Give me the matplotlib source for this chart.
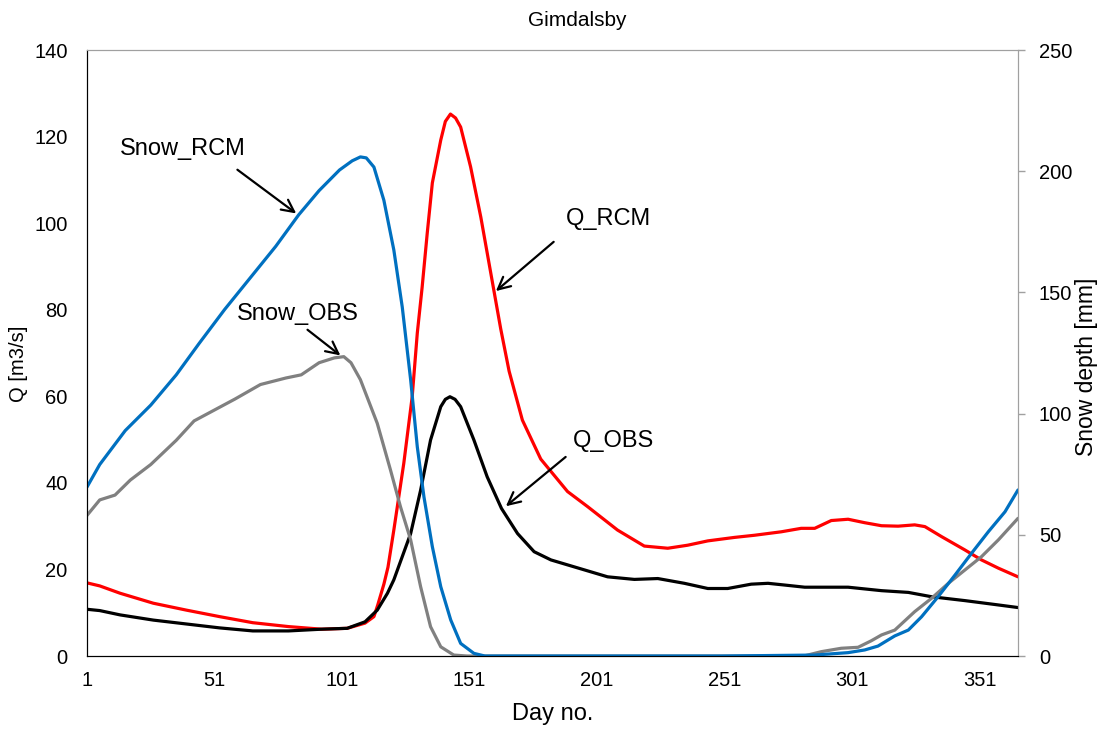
import matplotlib
matplotlib.use("Agg")
import matplotlib.pyplot as plt

plt.rcParams["font.family"] = ["Liberation Sans", "DejaVu Sans"]

# runoff (left axis, m3/s)
q_rcm_day = [1, 6, 14, 27, 40, 53, 66, 80, 93, 103, 110, 113.5, 115, 117.4, 119, 121.3, 125.2,
             128.5, 130.5, 132.4, 134.4, 136.4, 139.7, 141.5, 143.5, 145.5, 147.5, 151.4, 155.4,
             159.3, 163.2, 166.5, 171.7, 178.9, 189.4, 197.3, 209, 219.5, 228.7, 236.5, 244.4,
             254.8, 262.7, 273.2, 281, 286.3, 292.8, 299.4, 305.9, 312.5, 319, 325.5, 329.5, 336,
             345.2, 351.7, 358.3, 366]
q_rcm = [16.9, 16.2, 14.5, 12.2, 10.6, 9.1, 7.7, 6.8, 6.2, 6.4, 7.6, 9.1, 11.8, 16.6, 20.5, 29.1, 44.5,
         59.9, 74.6, 85.2, 97.7, 109.3, 119.2, 123.5, 125.2, 124.3, 122.2, 113.0, 101.4,
         88.5, 75.6, 65.8, 54.5, 45.5, 38.0, 34.5, 29.1, 25.4, 24.9, 25.6, 26.6,
         27.4, 27.9, 28.7, 29.5, 29.5, 31.3, 31.6, 30.8, 30.1, 30.0, 30.3, 29.9, 27.6,
         24.5, 22.2, 20.3, 18.3]

q_obs_day = [1, 6, 14, 27, 40, 53, 66, 80, 93, 103, 110, 114.8, 118.8, 121.3, 127.9, 131.8, 135.7,
             139.7, 141.5, 143.3, 145.3, 147.5, 152.7, 157.9, 163.5, 169.8, 176.3, 182.9, 196,
             205.1, 215.6, 224.8, 235.2, 244.4, 252.2, 261.4, 268, 274.5, 282.4, 299.4, 312.5,
             323, 332.1, 345.2, 358.3, 366]
q_obs = [10.8, 10.5, 9.5, 8.3, 7.4, 6.5, 5.8, 5.8, 6.2, 6.4, 7.9, 10.6, 14.5, 17.6, 28.3, 38.3, 49.9,
         57.6, 59.3, 59.9, 59.3, 57.6, 49.9, 41.4, 34.1, 28.3, 24.1, 22.2, 19.9,
         18.3, 17.7, 17.9, 16.8, 15.6, 15.6, 16.6, 16.8, 16.4, 15.9, 15.9, 15.1,
         14.7, 13.7, 12.8, 11.8, 11.2]

# snow depth (right axis, mm)
snow_rcm_day = [1, 6, 16, 26, 36, 45, 55, 65, 75, 84, 92, 100, 105, 108.2, 110.5, 113.5, 117.4,
                121.3, 124.6, 127.9, 130.5, 133.1, 136.4, 139.7, 143.6, 147.5, 152.7, 157, 200,
                250, 286.3, 299.4, 305.9, 311.1, 317.7, 323, 328.2, 334.7, 341.3, 347.8, 354.4,
                360.9, 366]
snow_rcm = [69.7, 79, 93, 103.5, 116, 129, 143, 156, 169, 182, 192, 200.5, 204.3, 205.9, 205.5, 201.7, 188,
            167.5, 144, 113.9, 86.3, 65.7, 45.1, 28.6, 14.9, 5.2, 1.1, 0, 0,
            0, 0.4, 1.4, 2.5, 4.1, 8.3, 10.7, 16.2, 24.5, 33.4, 42.4, 51.3,
            59.5, 68.5]

snow_obs_day = [1, 6, 12, 18, 26, 36, 43, 51, 59, 69, 79, 85, 92, 98, 101.7, 104.5, 108.2, 114.8,
                120, 123.9, 127.9, 131.8, 135.7, 139.7, 144.8, 150, 200, 250, 282, 288.9, 296.7,
                303.3, 308.5, 312.5, 317.7, 325.5, 332.1, 338.7, 345.2, 351.7, 358.3, 366]
snow_obs = [58, 64.4, 66.4, 72.6, 79, 89, 97, 101.5, 106, 112, 114.7, 116, 121, 123, 123.5, 121, 114, 96,
            76.7, 61.6, 47.9, 28.6, 12.1, 3.8, 0.4, 0, 0, 0, 0, 1.8, 3.2,
            3.6, 6.3, 8.7, 10.7, 18.3, 23.8, 30, 35.5, 41, 47.9, 56.8]

xticks = [1, 51, 101, 151, 201, 251, 301, 351]

fig = plt.figure(figsize=(11.01, 7.29), dpi=100)
ax = fig.add_axes([0.079, 0.1001, 0.8456, 0.8313])
ax2 = ax.twinx()

line = dict(lw=2.3, solid_joinstyle="round", solid_capstyle="round")
ax.plot(q_rcm_day, q_rcm, color="#FF0000", **line)
ax.plot(q_obs_day, q_obs, color="black", **line)
ax2.plot(snow_obs_day, snow_obs, color="#808080", **line)
ax2.plot(snow_rcm_day, snow_rcm, color="#0070C0", **line)

ax.set_xlim(1, 366)
ax.set_ylim(0, 140)
ax2.set_ylim(0, 250)
ax.set_xticks(xticks)
ax.set_yticks(range(0, 141, 20))
ax2.set_yticks(range(0, 251, 50))

for a in (ax, ax2):
    a.spines["top"].set_color("#A0A0A0")
    a.spines["right"].set_color("#A0A0A0")
    a.spines["left"].set_color("black")
    a.spines["bottom"].set_color("black")
ax.tick_params(axis="y", length=0, pad=14, labelsize=14.5)
ax.tick_params(axis="x", length=0, pad=11, labelsize=14.5)
ax2.tick_params(axis="y", length=5, width=1, color="#A0A0A0", pad=10, labelsize=14.5)

ax.set_xlabel("Day no.", fontsize=17, labelpad=9)
ax.set_ylabel("Q [m3/s]", fontsize=14.5)
ax.yaxis.set_label_coords(-0.063, 0.483)
ax2.set_ylabel("Snow depth [mm]", fontsize=16.5)
ax2.yaxis.set_label_coords(1.061, 0.477)
fig.text(0.524, 0.972, "Gimdalsby", fontsize=15, ha="center", va="center")

arrow = dict(arrowstyle="->", color="black", lw=1.6, mutation_scale=22)
ax2.text(14, 209, "Snow_RCM", fontsize=17, va="center")
ax2.annotate("", xy=(83.9, 181.9), xytext=(59.1, 201.3), arrowprops=arrow)
ax2.text(59.9, 141, "Snow_OBS", fontsize=17, va="center")
ax2.annotate("", xy=(101.2, 123.3), xytext=(86.6, 135.3), arrowprops=arrow)
ax2.text(188.7, 101 * 250 / 140, "Q_RCM", fontsize=17, va="center")
ax2.annotate("", xy=(160.5, 83.9 * 250 / 140), xytext=(184.8, 96.1 * 250 / 140), arrowprops=arrow)
ax2.text(191.5, 49.7 * 250 / 140, "Q_OBS", fontsize=17, va="center")
ax2.annotate("", xy=(164.4, 34.2 * 250 / 140), xytext=(189.5, 46.4 * 250 / 140), arrowprops=arrow)

fig.savefig("out.png", dpi=100)
